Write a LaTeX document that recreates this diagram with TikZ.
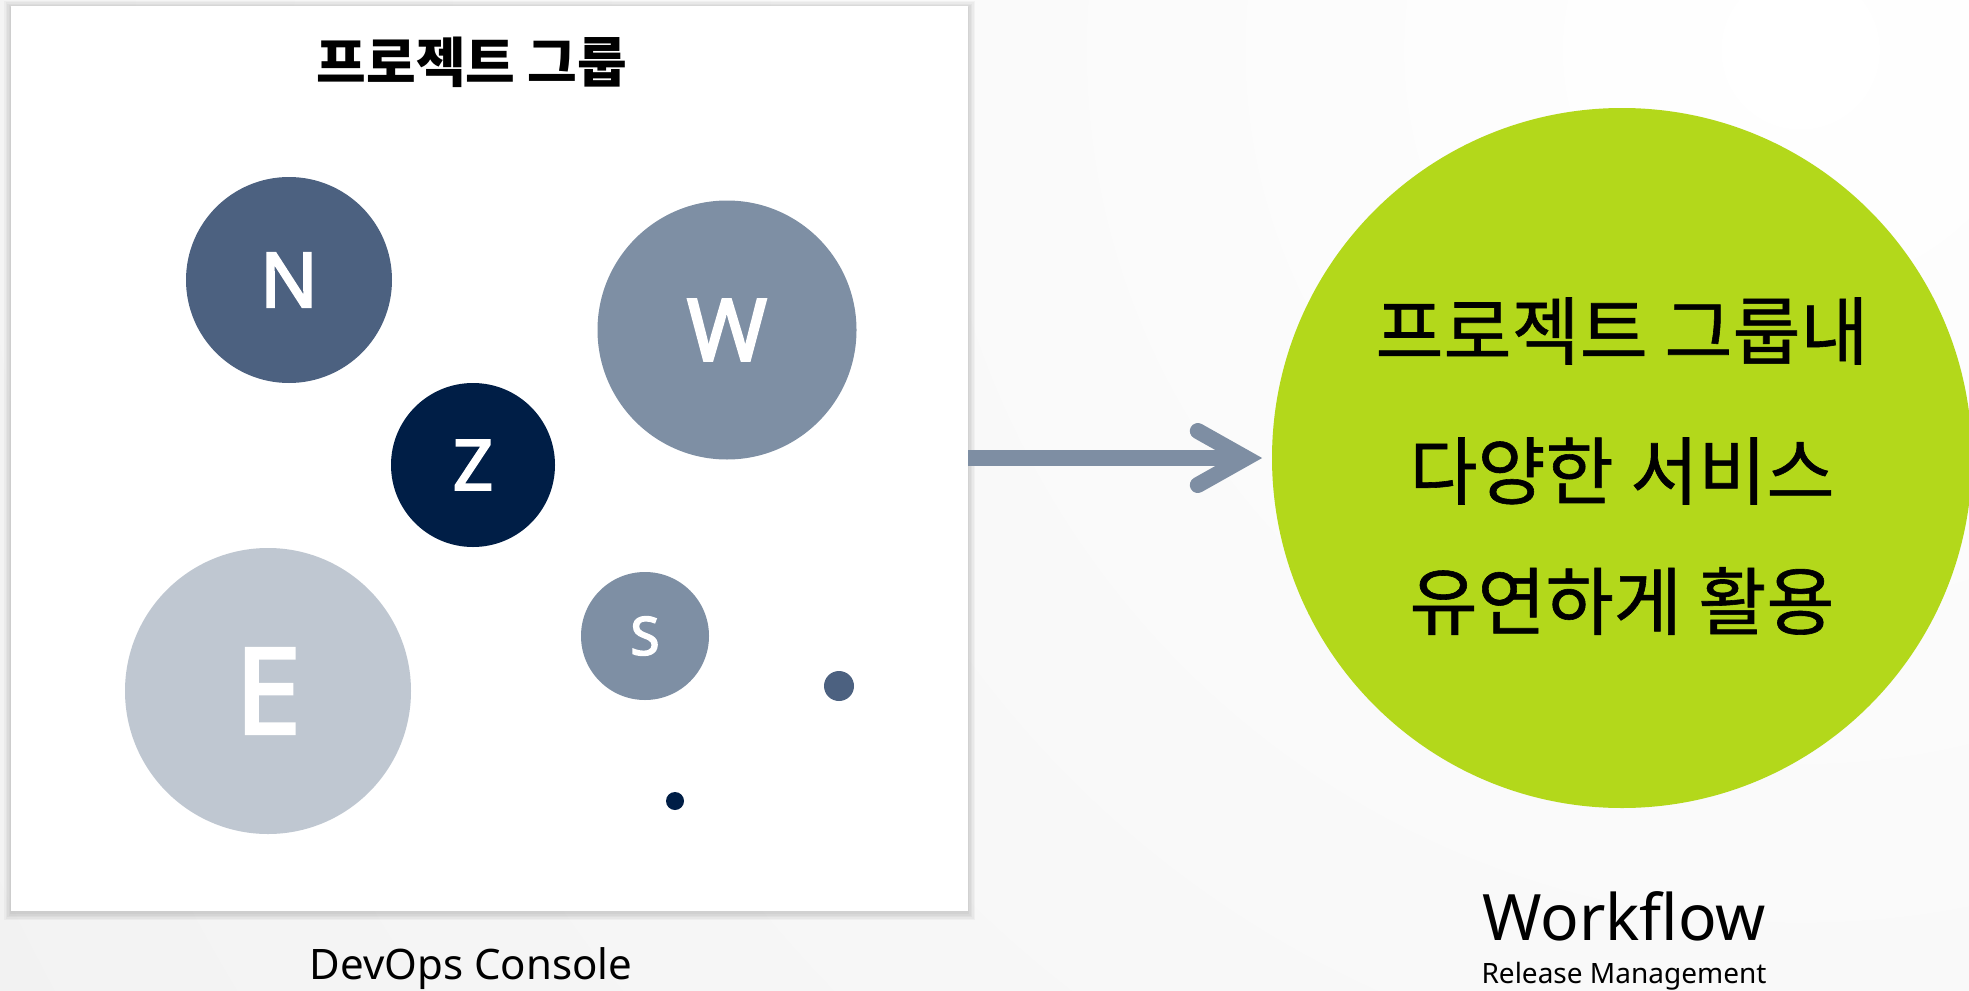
\documentclass[tikz,border=0pt]{standalone}
\usepackage{fontspec}
\setmainfont{Noto Sans}
\newfontfamily\kr{Noto Sans CJK KR}
\newfontfamily\krm[FakeBold=0.8]{Noto Sans CJK KR}
\newfontfamily\ballfont[FakeBold=2.8]{Noto Sans}
\usetikzlibrary{calc}
\definecolor{bgout}{HTML}{E2E2E2}
\definecolor{cN}{HTML}{4C6180}
\definecolor{cW}{HTML}{7E8FA4}
\definecolor{cZ}{HTML}{001E46}
\definecolor{cE}{HTML}{BFC7D1}
\definecolor{cG}{HTML}{B3D81B}
\definecolor{cA}{HTML}{7E8EA3}
\newcommand{\fs}[1]{\fontsize{#1}{#1}\selectfont}
\begin{document}
\begin{tikzpicture}[x=1pt,y=-1pt,
  ball/.style={circle, inner sep=0pt, text=white},
  arrowline/.style={draw=cA, line width=16pt},
  gtext/.style={font=\krm\fs{74}, text=black}]
\useasboundingbox (0,0) rectangle (1969,990);
\begin{scope}
  \clip (0,0) rectangle (1969,990);
  \shade[inner color=white, outer color=bgout] (1800,50) circle[radius=4600];
\end{scope}
% panel shadow
\foreach \i in {1,2.5,4,5.5,7}{
  \fill[black, opacity=0.03] (11-\i,6-\i+2) rectangle (968+\i,911+\i+2);
}
\node[fill=white, minimum width=957pt, minimum height=905pt, inner sep=0pt, anchor=north west] (panel) at (11,6) {};
\node[font=\kr\bfseries\fs{54}] (title) at (472,62) {프로젝트 그룹};
\node[ball, fill=cN, minimum size=206pt, font=\ballfont\fs{76}] (N) at (289,280) {N};
\node[ball, fill=cW, minimum size=259pt, font=\ballfont\fs{86}] (W) at (727,330) {W};
\node[ball, fill=cZ, minimum size=164pt, font=\ballfont\fs{70}] (Z) at (473,465) {Z};
\node[ball, fill=cE, minimum size=286pt, font=\ballfont\fs{119}] (E) at (268,691) {E};
\node[ball, fill=cW, minimum size=128pt, font=\ballfont\fs{53}] (S) at (645,636) {S};
\node[ball, fill=cN, minimum size=30pt] (d1) at (839,686) {};
\node[ball, fill=cZ, minimum size=18pt] (d2) at (675,801) {};
% green circle
\node[circle, fill=cG, minimum size=700pt, inner sep=0pt] (green) at (1622,458) {};
\node[gtext] (g1) at (1622,331) {프로젝트 그룹내};
\node[gtext] (g2) at (1622,471) {다양한 서비스};
\node[gtext] (g3) at (1622,601) {유연하게 활용};
% arrow
\coordinate (tip) at ([xshift=-26pt]green.west);
\draw[arrowline] (panel.east |- tip) -- (tip);
\draw[arrowline, line cap=round, line join=miter] ($(tip)+(-48,-27)$) -- (tip) -- ($(tip)+(-48,27)$);
% captions
\node[anchor=base, font=\fs{42}] (devops) at (471,979) {DevOps Console};
\node[anchor=base, font=\fs{64}] (wf) at (1624,940) {Workflow};
\node[anchor=base, font=\fs{28}] (rm) at (1624,983) {Release Management};
\end{tikzpicture}
\end{document}
